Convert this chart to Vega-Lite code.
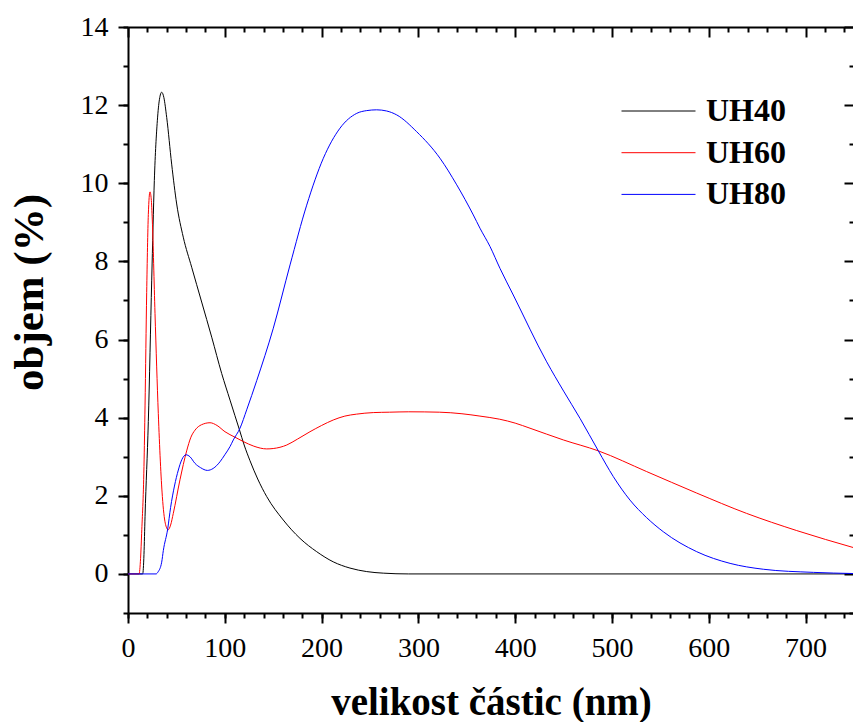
{
  "$schema": "https://vega.github.io/schema/vega-lite/v6.json",
  "autosize": "none",
  "width": 726,
  "height": 586,
  "padding": {"left": 128, "top": 27, "right": 0, "bottom": 109},
  "background": "white",
  "config": {"view": {"stroke": null}, "font": "Liberation Serif"},
  "datasets": {
    "d": [
      {"s": "UH40", "x": 0, "y": 0}, {"s": "UH40", "x": 15.2, "y": 0}, {"s": "UH40", "x": 16.5, "y": 0.5}, {"s": "UH40", "x": 17.6, "y": 1.47}, {"s": "UH40", "x": 21, "y": 3.9}, {"s": "UH40", "x": 24.5, "y": 7.52}, {"s": "UH40", "x": 27.2, "y": 10.07}, {"s": "UH40", "x": 30.3, "y": 11.6}, {"s": "UH40", "x": 32.5, "y": 12.15}, {"s": "UH40", "x": 34.8, "y": 12.33}, {"s": "UH40", "x": 37, "y": 12.2}, {"s": "UH40", "x": 40, "y": 11.68}, {"s": "UH40", "x": 45.1, "y": 10.49}, {"s": "UH40", "x": 50.3, "y": 9.47}, {"s": "UH40", "x": 57.1, "y": 8.62}, {"s": "UH40", "x": 65.8, "y": 7.85}, {"s": "UH40", "x": 76.1, "y": 6.96}, {"s": "UH40", "x": 86.5, "y": 6.06}, {"s": "UH40", "x": 96.8, "y": 5.13}, {"s": "UH40", "x": 105.4, "y": 4.45}, {"s": "UH40", "x": 110.5, "y": 4.05}, {"s": "UH40", "x": 115, "y": 3.7}, {"s": "UH40", "x": 120, "y": 3.3}, {"s": "UH40", "x": 126, "y": 2.9}, {"s": "UH40", "x": 134, "y": 2.43}, {"s": "UH40", "x": 143.3, "y": 1.98}, {"s": "UH40", "x": 160.4, "y": 1.38}, {"s": "UH40", "x": 177.7, "y": 0.91}, {"s": "UH40", "x": 194.9, "y": 0.57}, {"s": "UH40", "x": 212, "y": 0.31}, {"s": "UH40", "x": 229.3, "y": 0.15}, {"s": "UH40", "x": 246.6, "y": 0.06}, {"s": "UH40", "x": 263.7, "y": 0.02}, {"s": "UH40", "x": 290, "y": 0}, {"s": "UH40", "x": 750, "y": 0},
      {"s": "UH60", "x": 0, "y": 0}, {"s": "UH60", "x": 11.4, "y": 0}, {"s": "UH60", "x": 13, "y": 0.4}, {"s": "UH60", "x": 14.1, "y": 1.04}, {"s": "UH60", "x": 16.5, "y": 2.75}, {"s": "UH60", "x": 17.6, "y": 4.3}, {"s": "UH60", "x": 19.3, "y": 7.2}, {"s": "UH60", "x": 21, "y": 9.2}, {"s": "UH60", "x": 22.7, "y": 9.78}, {"s": "UH60", "x": 24, "y": 9.6}, {"s": "UH60", "x": 25.1, "y": 9.06}, {"s": "UH60", "x": 27.9, "y": 6.67}, {"s": "UH60", "x": 31.3, "y": 4.11}, {"s": "UH60", "x": 35.5, "y": 1.98}, {"s": "UH60", "x": 38.5, "y": 1.3}, {"s": "UH60", "x": 41.5, "y": 1.13}, {"s": "UH60", "x": 44, "y": 1.25}, {"s": "UH60", "x": 46.8, "y": 1.55}, {"s": "UH60", "x": 53.7, "y": 2.41}, {"s": "UH60", "x": 60.6, "y": 3.15}, {"s": "UH60", "x": 65, "y": 3.5}, {"s": "UH60", "x": 69.2, "y": 3.68}, {"s": "UH60", "x": 76, "y": 3.82}, {"s": "UH60", "x": 84.7, "y": 3.87}, {"s": "UH60", "x": 92, "y": 3.8}, {"s": "UH60", "x": 100.2, "y": 3.64}, {"s": "UH60", "x": 110.5, "y": 3.5}, {"s": "UH60", "x": 119, "y": 3.39}, {"s": "UH60", "x": 130, "y": 3.27}, {"s": "UH60", "x": 143.3, "y": 3.2}, {"s": "UH60", "x": 150, "y": 3.21}, {"s": "UH60", "x": 164, "y": 3.3}, {"s": "UH60", "x": 175, "y": 3.45}, {"s": "UH60", "x": 188, "y": 3.64}, {"s": "UH60", "x": 200, "y": 3.8}, {"s": "UH60", "x": 212, "y": 3.94}, {"s": "UH60", "x": 224, "y": 4.04}, {"s": "UH60", "x": 236, "y": 4.09}, {"s": "UH60", "x": 253.4, "y": 4.13}, {"s": "UH60", "x": 270, "y": 4.14}, {"s": "UH60", "x": 290, "y": 4.15}, {"s": "UH60", "x": 322, "y": 4.14}, {"s": "UH60", "x": 345, "y": 4.1}, {"s": "UH60", "x": 363.6, "y": 4.04}, {"s": "UH60", "x": 384, "y": 3.96}, {"s": "UH60", "x": 400, "y": 3.86}, {"s": "UH60", "x": 415.3, "y": 3.73}, {"s": "UH60", "x": 449.7, "y": 3.43}, {"s": "UH60", "x": 485.9, "y": 3.15}, {"s": "UH60", "x": 535.8, "y": 2.62}, {"s": "UH60", "x": 587.5, "y": 2.07}, {"s": "UH60", "x": 639, "y": 1.55}, {"s": "UH60", "x": 690.8, "y": 1.11}, {"s": "UH60", "x": 750, "y": 0.67},
      {"s": "UH80", "x": 0, "y": 0}, {"s": "UH80", "x": 29, "y": 0}, {"s": "UH80", "x": 31, "y": 0.05}, {"s": "UH80", "x": 34.8, "y": 0.3}, {"s": "UH80", "x": 36.5, "y": 0.6}, {"s": "UH80", "x": 41, "y": 1.15}, {"s": "UH80", "x": 44, "y": 1.7}, {"s": "UH80", "x": 48, "y": 2.25}, {"s": "UH80", "x": 52, "y": 2.66}, {"s": "UH80", "x": 55.5, "y": 2.92}, {"s": "UH80", "x": 59.9, "y": 3.05}, {"s": "UH80", "x": 64, "y": 3.0}, {"s": "UH80", "x": 69.2, "y": 2.83}, {"s": "UH80", "x": 75, "y": 2.72}, {"s": "UH80", "x": 82, "y": 2.65}, {"s": "UH80", "x": 88, "y": 2.7}, {"s": "UH80", "x": 95, "y": 2.87}, {"s": "UH80", "x": 100, "y": 3.05}, {"s": "UH80", "x": 105.4, "y": 3.26}, {"s": "UH80", "x": 108.8, "y": 3.43}, {"s": "UH80", "x": 115.7, "y": 3.73}, {"s": "UH80", "x": 122.6, "y": 4.2}, {"s": "UH80", "x": 133, "y": 4.95}, {"s": "UH80", "x": 150.1, "y": 6.29}, {"s": "UH80", "x": 167.4, "y": 7.91}, {"s": "UH80", "x": 184.6, "y": 9.44}, {"s": "UH80", "x": 201.8, "y": 10.64}, {"s": "UH80", "x": 219, "y": 11.41}, {"s": "UH80", "x": 236.3, "y": 11.79}, {"s": "UH80", "x": 246.6, "y": 11.86}, {"s": "UH80", "x": 256.9, "y": 11.88}, {"s": "UH80", "x": 267.2, "y": 11.85}, {"s": "UH80", "x": 277.6, "y": 11.75}, {"s": "UH80", "x": 298.2, "y": 11.32}, {"s": "UH80", "x": 322.3, "y": 10.64}, {"s": "UH80", "x": 339.6, "y": 9.96}, {"s": "UH80", "x": 356.7, "y": 9.19}, {"s": "UH80", "x": 363.6, "y": 8.85}, {"s": "UH80", "x": 374, "y": 8.38}, {"s": "UH80", "x": 384.3, "y": 7.82}, {"s": "UH80", "x": 398, "y": 7.14}, {"s": "UH80", "x": 432.5, "y": 5.43}, {"s": "UH80", "x": 450, "y": 4.68}, {"s": "UH80", "x": 467, "y": 3.98}, {"s": "UH80", "x": 485.9, "y": 3.15}, {"s": "UH80", "x": 501.4, "y": 2.49}, {"s": "UH80", "x": 518.6, "y": 1.89}, {"s": "UH80", "x": 535.8, "y": 1.44}, {"s": "UH80", "x": 553, "y": 1.08}, {"s": "UH80", "x": 587.5, "y": 0.57}, {"s": "UH80", "x": 622, "y": 0.27}, {"s": "UH80", "x": 656.3, "y": 0.12}, {"s": "UH80", "x": 708, "y": 0.04}, {"s": "UH80", "x": 750, "y": 0.01}
    ]
  },
  "data": {"name": "d"},
  "resolve": {"axis": {"x": "independent", "y": "independent"}},
  "layer": [
    {
      "mark": {"type": "point", "opacity": 0},
      "encoding": {
        "x": {"field": "x", "type": "quantitative", "scale": {"domain": [0, 750], "nice": false, "zero": false},
          "axis": {"orient": "bottom", "values": [0,20,40,60,80,100,120,140,160,180,200,220,240,260,280,300,320,340,360,380,400,420,440,460,480,500,520,540,560,580,600,620,640,660,680,700,720,740], "labels": false, "domain": false, "grid": false, "tickSize": 5, "tickWidth": 2, "tickColor": "black", "title": null}},
        "y": {"field": "y", "type": "quantitative", "scale": {"domain": [-1, 14], "nice": false, "zero": false},
          "axis": {"orient": "left", "values": [-1,0,1,2,3,4,5,6,7,8,9,10,11,12,13,14], "labels": false, "domain": false, "grid": false, "tickSize": 5, "tickWidth": 2, "tickColor": "black", "title": null}}
      }
    },
    {
      "mark": {"type": "point", "opacity": 0},
      "encoding": {
        "x": {"field": "x", "type": "quantitative",
          "axis": {"orient": "top", "values": [0,100,200,300,400,500,600,700], "labels": false, "domain": true, "domainColor": "black", "domainWidth": 2, "grid": false, "tickSize": -10, "tickWidth": 2, "tickColor": "black", "title": null}},
        "y": {"field": "y", "type": "quantitative",
          "axis": {"orient": "right", "values": [0,2,4,6,8,10,12,14], "labels": false, "domain": true, "domainColor": "black", "domainWidth": 2, "grid": false, "tickSize": -10, "tickWidth": 2, "tickColor": "black", "title": null}}
      }
    },
    {
      "mark": {"type": "point", "opacity": 0},
      "encoding": {
        "x": {"field": "x", "type": "quantitative",
          "axis": {"orient": "top", "values": [20,40,60,80,120,140,160,180,220,240,260,280,320,340,360,380,420,440,460,480,520,540,560,580,620,640,660,680,720,740], "labels": false, "domain": false, "grid": false, "tickSize": -5, "tickWidth": 2, "tickColor": "black", "title": null}},
        "y": {"field": "y", "type": "quantitative",
          "axis": {"orient": "right", "values": [-1,1,3,5,7,9,11,13], "labels": false, "domain": false, "grid": false, "tickSize": -5, "tickWidth": 2, "tickColor": "black", "title": null}}
      }
    },
    {
      "mark": {"type": "line", "strokeWidth": 1, "interpolate": "monotone", "clip": true},
      "encoding": {
        "x": {"field": "x", "type": "quantitative",
          "axis": {"orient": "bottom", "values": [0,100,200,300,400,500,600,700], "format": "d", "domain": true, "domainColor": "black", "domainWidth": 2, "grid": false, "tickSize": 10, "tickWidth": 2, "tickColor": "black", "labelFont": "Liberation Serif", "labelFontSize": 28, "labelColor": "black", "labelPadding": 11, "labelFlush": false, "labelOverlap": false,
            "title": "velikost částic (nm)", "titleFont": "Liberation Serif", "titleFontWeight": "bold", "titleFontSize": 39, "titleColor": "black", "titleX": 363, "titleY": 101, "titleAlign": "center", "titleBaseline": "alphabetic"}},
        "y": {"field": "y", "type": "quantitative",
          "axis": {"orient": "left", "values": [0,2,4,6,8,10,12,14], "format": "d", "domain": true, "domainColor": "black", "domainWidth": 2, "grid": false, "tickSize": 10, "tickWidth": 2, "tickColor": "black", "labelFont": "Liberation Serif", "labelFontSize": 28, "labelColor": "black", "labelPadding": 10, "labelFlush": false, "labelOverlap": false,
            "title": "objem (%)", "titleFont": "Liberation Serif", "titleFontWeight": "bold", "titleFontSize": 43, "titleColor": "black", "titleX": -99, "titleY": 265, "titleAngle": -90, "titleAlign": "center", "titleBaseline": "middle"}},
        "color": {"field": "s", "type": "nominal",
          "scale": {"domain": ["UH40", "UH60", "UH80"], "range": ["#000000", "#ff0000", "#0000ff"]},
          "legend": {"orient": "none", "legendX": 493, "legendY": 67, "title": null, "symbolType": "stroke", "symbolSize": 5476, "symbolStrokeWidth": 1, "clipHeight": 34, "labelFont": "Liberation Serif", "labelFontWeight": "bold", "labelFontSize": 32, "labelColor": "black", "labelOffset": 10, "rowPadding": 7.7, "padding": 0, "labelBaseline": "middle"}}
      }
    }
  ]
}
